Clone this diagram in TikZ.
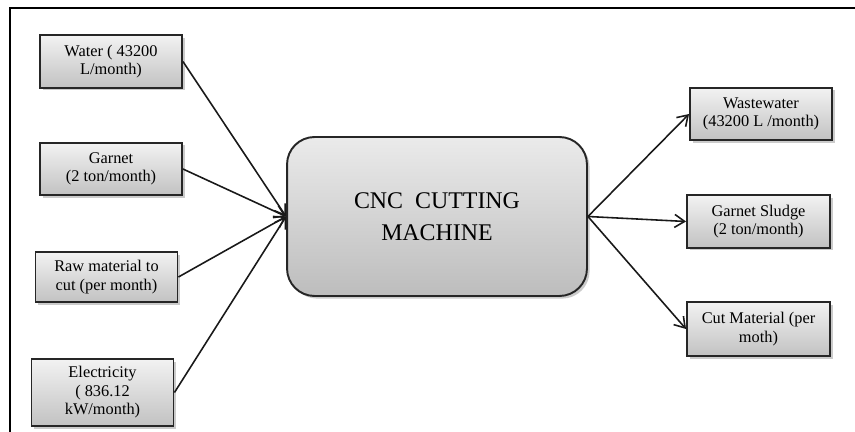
\documentclass[tikz,border=0pt]{standalone}
\usepackage{fontspec}
\setmainfont{Liberation Serif}
\usetikzlibrary{shadows,arrows.meta}

\tikzset{
	flowbox/.style={draw=black!85, line width=1.1pt, top color=black!5, bottom color=black!24,
		align=center, inner sep=1pt, minimum width=2.84cm, minimum height=1.05cm,
		font=\fontsize{9.3}{10.5}\selectfont,
		drop shadow={shadow xshift=1.5pt, shadow yshift=-1.5pt, fill=black!45, opacity=.45}},
	flowarrow/.style={line width=0.9pt, black!90, -{Straight Barb[length=2mm,width=2.6mm]}},
}

\begin{document}
\begin{tikzpicture}[x=0.02cm,y=-0.02cm]
	\useasboundingbox (0,0) rectangle (855,432);
	\draw[line width=1.1pt] (10,432) -- (10,8) -- (855,8);
	% inputs
	\node[flowbox] (water) at (111,61.5) {Water ( 43200\\L/month)};
	\node[flowbox] (garnet) at (111,169) {Garnet\\(2 ton/month)};
	\node[flowbox, minimum height=1cm] (raw) at (106.5,277) {Raw material to\\cut (per month)};
	\node[flowbox, minimum height=1.34cm] (power) at (102.5,392.5) {Electricity\\( 836.12\\kW/month)};
	% machine
	\node[flowbox, rounded corners=0.55cm, minimum width=6cm, minimum height=3.18cm,
		top color=black!8, bottom color=black!26,
		font=\fontsize{13.6}{18.5}\selectfont] (cnc) at (437,216.5) {CNC\ \ CUTTING\\MACHINE};
	% outputs
	\node[flowbox] (waste) at (761,114) {Wastewater\\(43200 L /month)};
	\node[flowbox, minimum width=2.86cm] (sludge) at (758.5,221.5) {Garnet Sludge\\(2 ton/month)};
	\node[flowbox, minimum width=2.86cm, minimum height=1.08cm] (cut) at (758.5,329) {Cut Material (per\\moth)};
	\foreach \src in {water,garnet,raw,power}{
		\draw[flowarrow] (\src.east) -- (cnc.west);
	}
	\foreach \dst in {waste,sludge,cut}{
		\draw[flowarrow] (cnc.east) -- (\dst.west);
	}
\end{tikzpicture}
\end{document}
